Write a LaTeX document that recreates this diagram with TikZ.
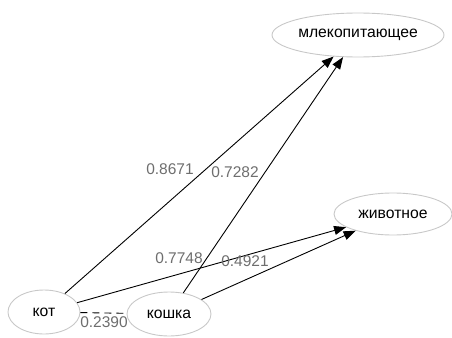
\documentclass[tikz,border=0pt]{standalone}
\usepackage{fontspec}
\setmainfont{Liberation Sans}
\usetikzlibrary{shapes.geometric,arrows.meta}
\definecolor{nodeborder}{RGB}{200,200,200}
\definecolor{labelgray}{RGB}{110,110,110}
\tikzset{
  ell/.style={ellipse,draw=nodeborder,line width=0.9pt,inner sep=0pt,font=\fontsize{15.7}{17}\selectfont},
  edge/.style={draw=black,line width=0.9pt,-{Triangle[length=12pt,width=9pt]}},
  undirected/.style={draw=black,line width=0.9pt,dash pattern=on 7pt off 5pt},
  wlabel/.style={text=labelgray,font=\fontsize{15.5}{17}\selectfont,inner sep=0pt}
}
\begin{document}
\begin{tikzpicture}[x=1pt,y=-1pt]
\useasboundingbox (0,0) rectangle (452,337);
\node[ell,minimum width=172pt,minimum height=44pt] (mlek) at (358,35) {млекопитающее};
\node[ell,minimum width=118pt,minimum height=42pt] (zhiv) at (393,214) {животное};
\node[ell,minimum width=72pt,minimum height=44pt] (kot) at (44,312) {кот};
\node[ell,minimum width=84pt,minimum height=44pt] (koshka) at (169,314) {кошка};
\draw[edge] (kot) -- (mlek);
\draw[edge] (koshka) -- (mlek);
\draw[edge] (kot) -- (zhiv);
\draw[edge] (koshka) -- (zhiv);
\draw[undirected] (kot) -- (koshka);
\node[wlabel] (l1) at (170,169) {0.8671};
\node[wlabel] (l2) at (235,172) {0.7282};
\node[wlabel] (l3) at (179,258) {0.7748};
\node[wlabel] (l4) at (245,261) {0.4921};
\node[wlabel] (l5) at (104,322) {0.2390};
\end{tikzpicture}
\end{document}
